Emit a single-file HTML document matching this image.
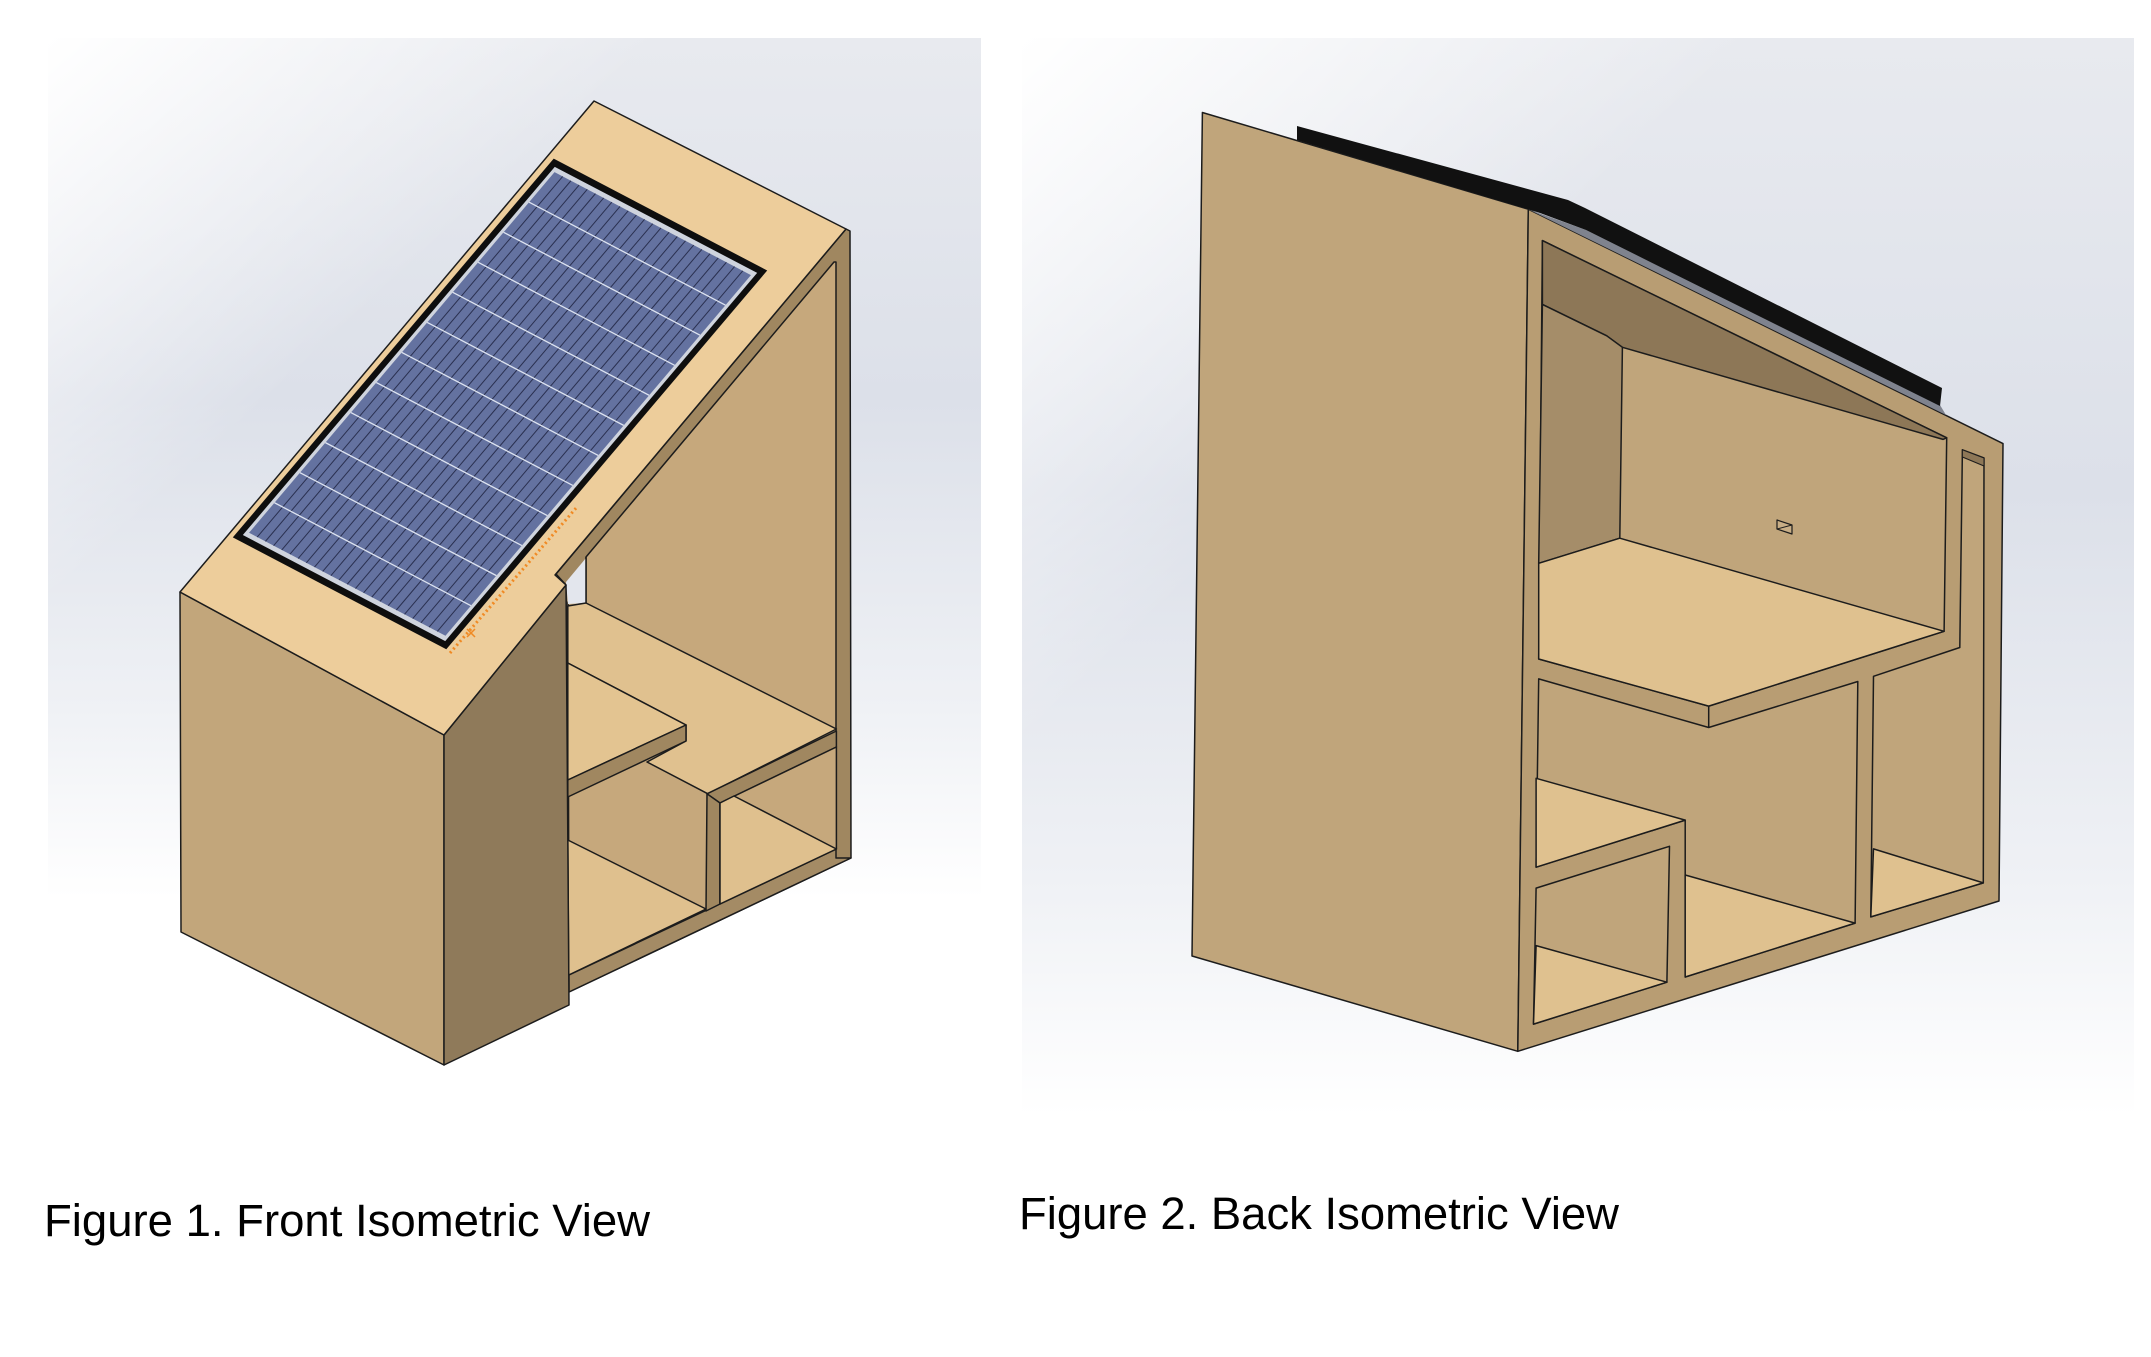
<!DOCTYPE html>
<html>
<head>
<meta charset="utf-8">
<style>
html,body{margin:0;padding:0;background:#ffffff;}
svg{display:block;}
</style>
</head>
<body>
<svg width="2151" height="1357" viewBox="0 0 2151 1357" xmlns="http://www.w3.org/2000/svg">
<defs>
  <linearGradient id="bgv" x1="0" y1="0" x2="0" y2="1">
    <stop offset="0" stop-color="#e8eaef"/>
    <stop offset="0.42" stop-color="#dce0e9"/>
    <stop offset="0.78" stop-color="#eff1f5"/>
    <stop offset="1" stop-color="#ffffff"/>
  </linearGradient>
  <linearGradient id="bgd" x1="0" y1="0" x2="1" y2="1">
    <stop offset="0" stop-color="#ffffff" stop-opacity="1"/>
    <stop offset="0.33" stop-color="#ffffff" stop-opacity="0"/>
  </linearGradient>
</defs>

<rect width="2151" height="1357" fill="#ffffff"/>

<!-- background panels -->
<rect x="48" y="38" width="933" height="860" fill="url(#bgv)"/>
<rect x="48" y="38" width="933" height="860" fill="url(#bgd)"/>
<rect x="1022" y="38" width="1112" height="1078" fill="url(#bgv)"/>
<rect x="1022" y="38" width="1112" height="1078" fill="url(#bgd)"/>

<!-- ================= FIGURE 1 ================= -->
<g stroke="#1c1c1c" stroke-width="1.5" stroke-linejoin="round">
  <!-- brown frame (right wall edge + strip) -->
  <polygon points="846,229 850,231 851,858 569,992 566,585 556,574" fill="#A08760"/>
  <!-- interior -->
  <polygon points="586,557 834,262 836,262 836,849 569,975 568,602 586,603" fill="#C6A87C"/>
  <!-- white gap -->
  <polygon points="566,582 586,558 586,603 568,604" fill="#e3e6ed" stroke="none"/>
  <line x1="586" y1="557" x2="586" y2="603"/>
  <!-- bottom band -->
  <polygon points="851,858 569,992 569,975 836,849 836,858" fill="#A48B65"/>
  <!-- upper floor -->
  <polygon points="567.8,606 586,603 836.4,729 707.9,793.8 647,762 686,741 686,725 567.8,663" fill="#E0C18F"/>
  <!-- shelf -->
  <polygon points="567.8,663 686,725 567.8,780" fill="#E3C491"/>
  <polygon points="686,725 686,741 567.8,797 567.8,780" fill="#A08760"/>
  <!-- middle compartment floor -->
  <polygon points="567.8,840 706,909 568.7,975" fill="#DFC08E"/>
  <!-- cubby frame -->
  <polygon points="707,793.8 836.4,731 836.4,747 720,803" fill="#A08760"/>
  <polygon points="707,793.8 720,803 720,904 706,911" fill="#A08760"/>
  <!-- cubby interior -->
  <polygon points="720,803 836.4,747 836.4,849 720,904" fill="#C6A87C"/>
  <polygon points="734,796 836.4,849 720,904 720,803" fill="#DFC08E"/>

  <!-- pillar -->
  <polygon points="180,592 444,735 444,1065 181,932" fill="#C2A67B"/>
  <polygon points="444,735 566,585 569,1005 444,1065" fill="#8F7A5A"/>
  <!-- top face -->
  <polygon points="180,592 594,101 846,229 555,575 566,585 444,735" fill="#EDCD9B"/>
</g>

<!-- solar panel -->
<g transform="matrix(2.135,1.119,-3.209,3.788,553.7,158.6)">
  <rect x="0" y="0" width="100" height="100" fill="#0e0e0e"/>
  <rect x="2.6" y="1.4" width="94.8" height="97.2" fill="#cfd4de"/>
  <rect x="4" y="2.4" width="92" height="95.2" fill="#6472a0"/>
  <g stroke="#2a3050" stroke-width="1">
    <line x1="7.83" y1="2.4" x2="7.83" y2="97.6" vector-effect="non-scaling-stroke"/>
    <line x1="11.67" y1="2.4" x2="11.67" y2="97.6" vector-effect="non-scaling-stroke"/>
    <line x1="15.5" y1="2.4" x2="15.5" y2="97.6" vector-effect="non-scaling-stroke"/>
    <line x1="19.33" y1="2.4" x2="19.33" y2="97.6" vector-effect="non-scaling-stroke"/>
    <line x1="23.17" y1="2.4" x2="23.17" y2="97.6" vector-effect="non-scaling-stroke"/>
    <line x1="27" y1="2.4" x2="27" y2="97.6" vector-effect="non-scaling-stroke"/>
    <line x1="30.83" y1="2.4" x2="30.83" y2="97.6" vector-effect="non-scaling-stroke"/>
    <line x1="34.67" y1="2.4" x2="34.67" y2="97.6" vector-effect="non-scaling-stroke"/>
    <line x1="38.5" y1="2.4" x2="38.5" y2="97.6" vector-effect="non-scaling-stroke"/>
    <line x1="42.33" y1="2.4" x2="42.33" y2="97.6" vector-effect="non-scaling-stroke"/>
    <line x1="46.17" y1="2.4" x2="46.17" y2="97.6" vector-effect="non-scaling-stroke"/>
    <line x1="50" y1="2.4" x2="50" y2="97.6" vector-effect="non-scaling-stroke"/>
    <line x1="53.83" y1="2.4" x2="53.83" y2="97.6" vector-effect="non-scaling-stroke"/>
    <line x1="57.67" y1="2.4" x2="57.67" y2="97.6" vector-effect="non-scaling-stroke"/>
    <line x1="61.5" y1="2.4" x2="61.5" y2="97.6" vector-effect="non-scaling-stroke"/>
    <line x1="65.33" y1="2.4" x2="65.33" y2="97.6" vector-effect="non-scaling-stroke"/>
    <line x1="69.17" y1="2.4" x2="69.17" y2="97.6" vector-effect="non-scaling-stroke"/>
    <line x1="73" y1="2.4" x2="73" y2="97.6" vector-effect="non-scaling-stroke"/>
    <line x1="76.83" y1="2.4" x2="76.83" y2="97.6" vector-effect="non-scaling-stroke"/>
    <line x1="80.67" y1="2.4" x2="80.67" y2="97.6" vector-effect="non-scaling-stroke"/>
    <line x1="84.5" y1="2.4" x2="84.5" y2="97.6" vector-effect="non-scaling-stroke"/>
    <line x1="88.33" y1="2.4" x2="88.33" y2="97.6" vector-effect="non-scaling-stroke"/>
    <line x1="92.17" y1="2.4" x2="92.17" y2="97.6" vector-effect="non-scaling-stroke"/>
  </g>
  <g stroke="#dde3f0" stroke-width="1.3">
    <line x1="4" y1="10.33" x2="96" y2="10.33" vector-effect="non-scaling-stroke"/>
    <line x1="4" y1="18.27" x2="96" y2="18.27" vector-effect="non-scaling-stroke"/>
    <line x1="4" y1="26.2" x2="96" y2="26.2" vector-effect="non-scaling-stroke"/>
    <line x1="4" y1="34.13" x2="96" y2="34.13" vector-effect="non-scaling-stroke"/>
    <line x1="4" y1="42.07" x2="96" y2="42.07" vector-effect="non-scaling-stroke"/>
    <line x1="4" y1="50" x2="96" y2="50" vector-effect="non-scaling-stroke"/>
    <line x1="4" y1="57.93" x2="96" y2="57.93" vector-effect="non-scaling-stroke"/>
    <line x1="4" y1="65.87" x2="96" y2="65.87" vector-effect="non-scaling-stroke"/>
    <line x1="4" y1="73.8" x2="96" y2="73.8" vector-effect="non-scaling-stroke"/>
    <line x1="4" y1="81.73" x2="96" y2="81.73" vector-effect="non-scaling-stroke"/>
    <line x1="4" y1="89.67" x2="96" y2="89.67" vector-effect="non-scaling-stroke"/>
  </g>
</g>
<!-- orange marks -->
<line x1="450" y1="653" x2="577" y2="507" stroke="#f08a24" stroke-width="3" stroke-dasharray="2 3"/>
<path d="M467,629 L475,637 M475,629 L467,637" stroke="#f08a24" stroke-width="1.5"/>

<!-- ================= FIGURE 2 ================= -->
<g stroke="#1c1c1c" stroke-width="1.5" stroke-linejoin="round">
  <!-- left face -->
  <polygon points="1202.4,112.5 1528.3,209.2 1517.8,1051.3 1192,956" fill="#C0A57B"/>
  <!-- frame silhouette -->
  <polygon points="1528.3,209.2 2003,443.6 1999,901 1517.8,1051.3" fill="#B89D73"/>

  <!-- opening 1 (upper compartment) -->
  <polygon points="1542.4,240.6 1946.7,437.8 1944.1,631.3 1708.7,706.1 1538.7,659" fill="#C0A57B"/>
  <polygon points="1542.4,240.6 1946.7,437.8 1943,439.4 1622.4,347.3 1606.7,335.8 1542.4,304.4" fill="#8D7757"/>
  <polygon points="1542.4,304.4 1606.7,335.8 1622.4,347.3 1619.8,538.2 1538.7,563.3" fill="#A58D69"/>
  <polygon points="1538.7,563.3 1619.8,538.2 1944.1,631.3 1708.7,706.1 1538.7,659" fill="#DFC18F"/>
  <polygon points="1777,520 1792,525 1792,534 1777,529" fill="#C8AE86" stroke-width="1.2"/>
  <line x1="1777" y1="529" x2="1792" y2="525" stroke-width="1"/>

  <!-- opening 2 (middle) -->
  <polygon points="1538.7,678.9 1708.7,727.5 1857.8,681.5 1855.1,923.1 1685.2,977 1685.2,820.1 1536.1,867.2" fill="#C0A57B"/>
  <polygon points="1536.1,778.3 1685.2,820.1 1536.1,867.2" fill="#DFC18F"/>
  <polygon points="1685.2,875 1855.1,923.1 1685.2,977" fill="#DFC18F"/>
  <line x1="1708.7" y1="706.1" x2="1708.7" y2="727.5"/>

  <!-- opening 4 (lower-left cubby) -->
  <polygon points="1536.1,888.1 1669.5,846.3 1666.9,982.2 1533.5,1024.1" fill="#C0A57B"/>
  <polygon points="1536.1,945.6 1666.9,982.2 1533.5,1024.1" fill="#DFC18F"/>

  <!-- opening 3 (right tall) -->
  <polygon points="1962.4,449.8 1984,458 1983.3,882.9 1870.8,916.9 1873.5,676.3 1959.8,647.5" fill="#C0A57B"/>
  <polygon points="1962.4,449.8 1984,458 1984,466 1962.4,457" fill="#8D7757" stroke-width="1"/>
  <polygon points="1873.5,848.9 1983.3,882.9 1870.8,916.9" fill="#DFC18F"/>
</g>

<!-- solar panel edge (black band) -->
<polygon points="1528.3,209.2 1586,230 1940,405 1946,415" fill="#7f838e"/>
<polygon points="1297,126 1568,200 1585,208 1942,388 1940,406 1586,230 1540,213 1528.3,209.2 1297,140" fill="#111111"/>

<!-- captions -->
<text x="44" y="1236" font-family="'Liberation Sans', Arial, sans-serif" font-size="45" fill="#000" textLength="606" lengthAdjust="spacingAndGlyphs">Figure 1. Front Isometric View</text>
<text x="1019" y="1229" font-family="'Liberation Sans', Arial, sans-serif" font-size="45" fill="#000" textLength="600" lengthAdjust="spacingAndGlyphs">Figure 2. Back Isometric View</text>
</svg>
</body>
</html>
